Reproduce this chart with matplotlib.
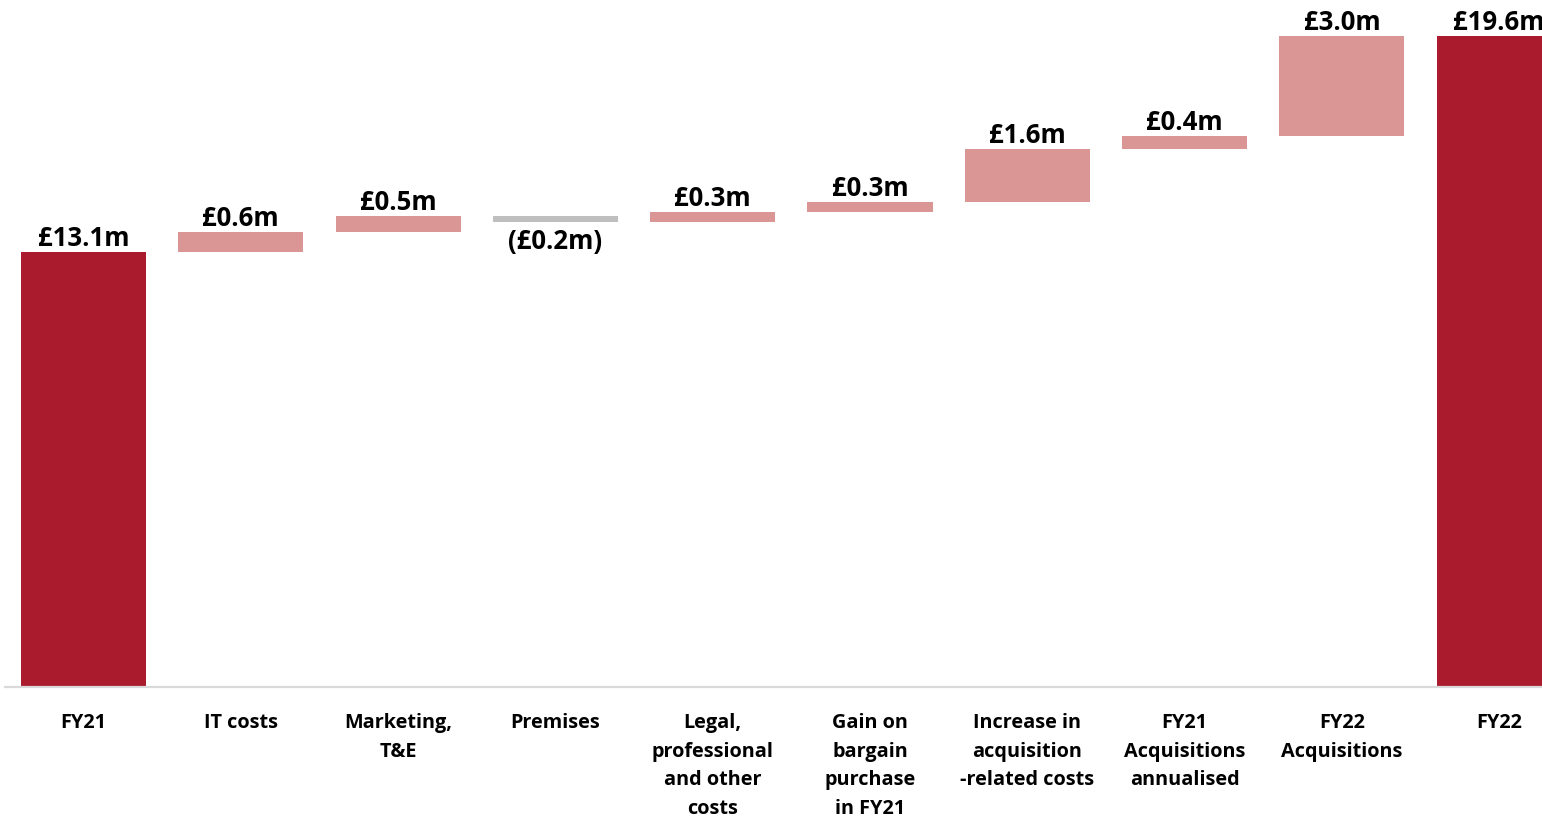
import matplotlib
matplotlib.use("Agg")
import matplotlib.pyplot as plt
import numpy as np

plt.rcParams['font.family'] = ['Open Sans', 'DejaVu Sans']

# Bridge from FY21 to FY22 costs (£m)
categories = ["FY21", "IT costs", "Marketing,\nT&E", "Premises",
              "Legal,\nprofessional\nand other\ncosts",
              "Gain on\nbargain\npurchase\nin FY21",
              "Increase in\nacquisition\n-related costs",
              "FY21\nAcquisitions\nannualised",
              "FY22\nAcquisitions", "FY22"]
values = [13.1, 0.6, 0.5, -0.2, 0.3, 0.3, 1.6, 0.4, 3.0, 19.6]
labels = ["£13.1m", "£0.6m", "£0.5m", "(£0.2m)", "£0.3m", "£0.3m",
          "£1.6m", "£0.4m", "£3.0m", "£19.6m"]
is_total = [True, False, False, False, False, False, False, False, False, True]

dark_red = "#AB1B2E"
pink = "#DA9694"
grey = "#BFBFBF"

fig = plt.figure(figsize=(15.42, 8.16), dpi=100)
W, H = 1542, 816
scale = 33.2  # px per £m
ax = fig.add_axes([4.85 / W, 129 / H, 1573 / W, 687 / H])
ax.set_xlim(-0.5, len(values) - 0.5)
ax.set_ylim(0, 687 / scale)

x = np.arange(len(values))
running = 0.0
for i, (v, tot) in enumerate(zip(values, is_total)):
    if tot:
        bottom, height, color = 0, v, dark_red
        running = v
    else:
        bottom, height = running, v
        color = pink if v >= 0 else grey
        running += v
    ax.bar(x[i], height, bottom=bottom, width=0.795, color=color,
           edgecolor="none", zorder=2)
    top = max(bottom, bottom + height)
    low = min(bottom, bottom + height)
    if v >= 0:
        ax.annotate(labels[i], (x[i], top), xytext=(0, 0),
                    textcoords="offset points", ha="center", va="bottom",
                    fontsize=18.5, fontweight="bold", color="black",
                    annotation_clip=False)
    else:
        ax.annotate(labels[i], (x[i], low), xytext=(0, -4),
                    textcoords="offset points", ha="center", va="top",
                    fontsize=18.5, fontweight="bold", color="black",
                    annotation_clip=False)

ax.set_xticks(x)
ax.set_xticklabels(categories, fontsize=14.3, fontweight="bold",
                   linespacing=1.57, va="top")
ax.tick_params(axis="x", length=0, pad=19)
ax.set_yticks([])
for s in ["top", "right", "left"]:
    ax.spines[s].set_visible(False)
ax.spines["bottom"].set_color("#D9D9D9")
ax.spines["bottom"].set_linewidth(1.6)

fig.savefig("out.png", dpi=100)
